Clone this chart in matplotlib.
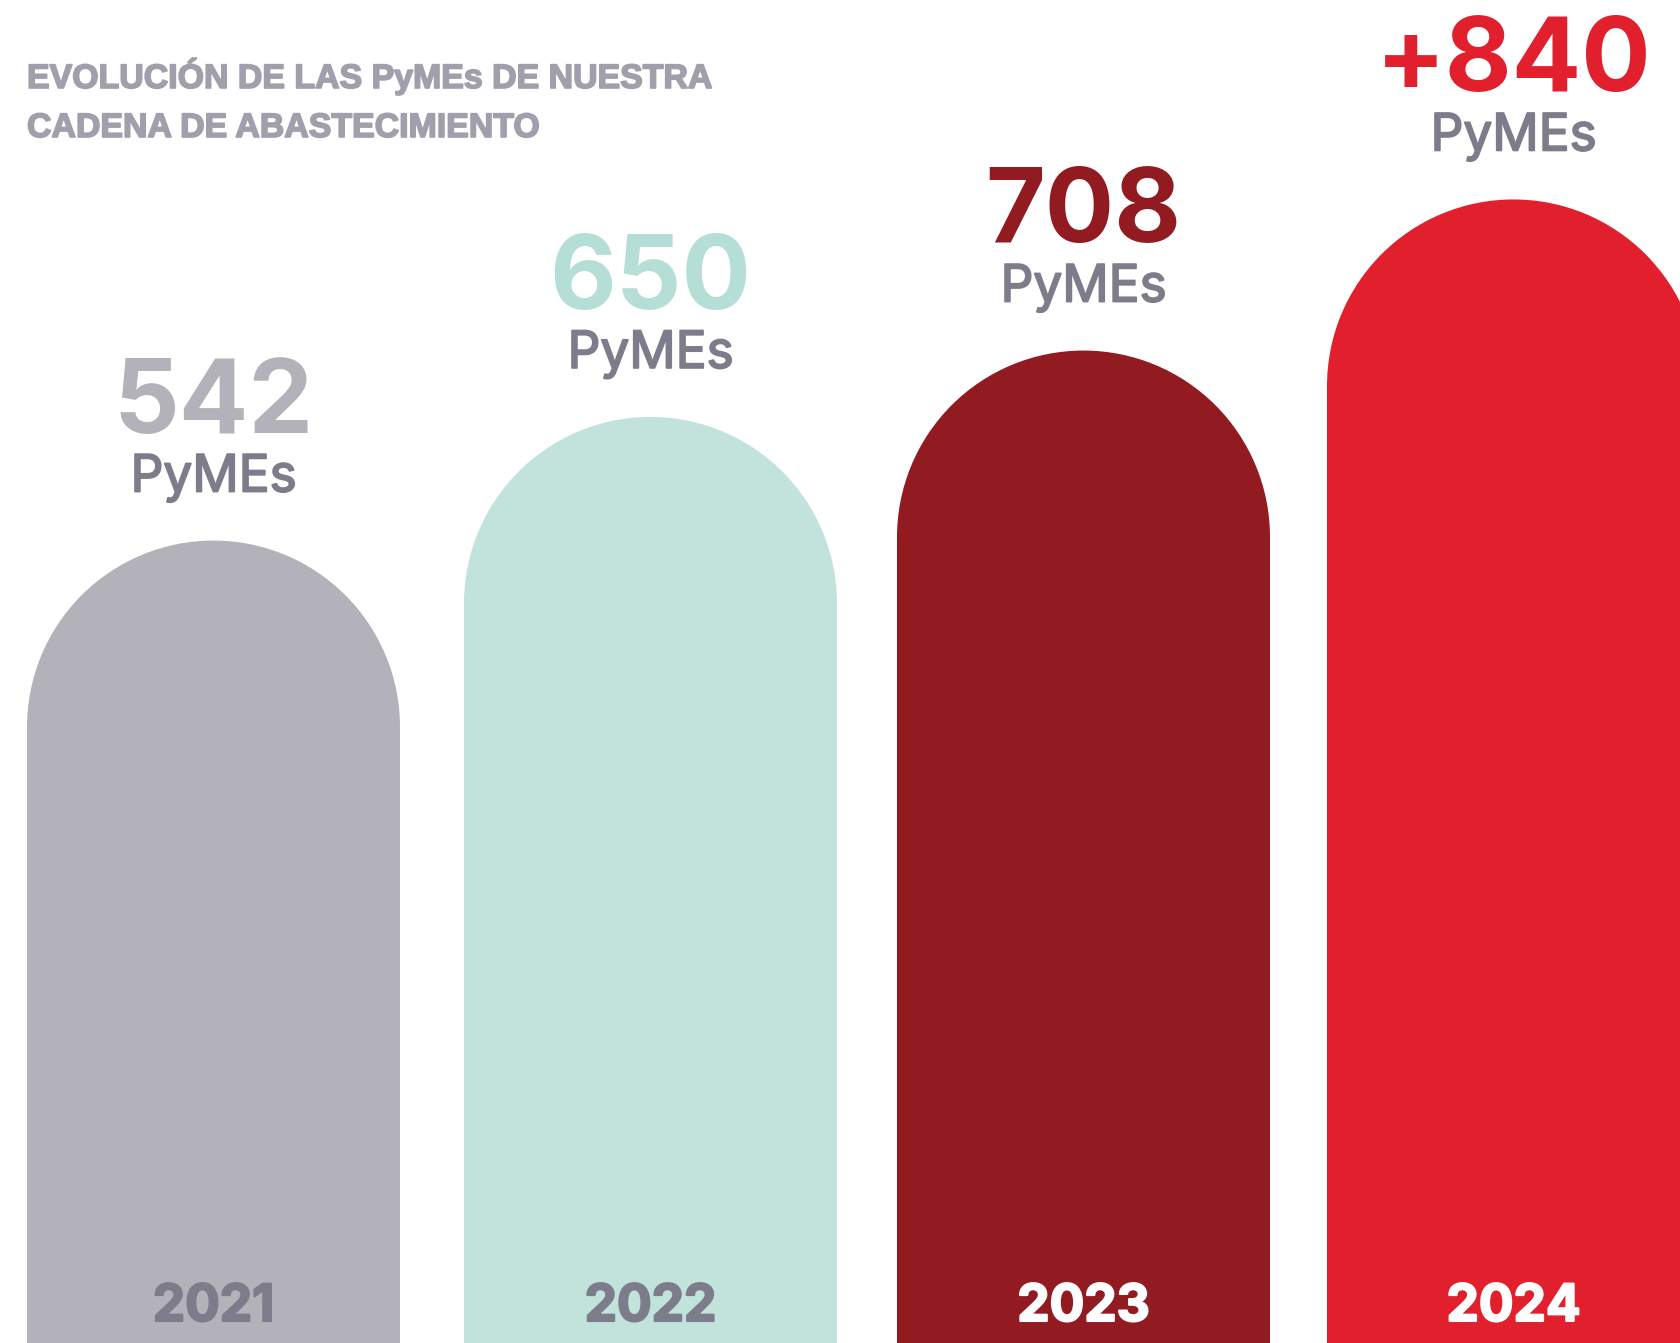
import numpy as np
import matplotlib
matplotlib.use("Agg")
from matplotlib import pyplot as plt
from matplotlib.path import Path
from matplotlib.patches import PathPatch
import matplotlib.patheffects as pe

years = ["2021", "2022", "2023", "2024"]
pymes = [542, 650, 708, 840]
value_labels = ["542", "650", "708", "+840"]
bar_colors = ["#B3B1BA", "#C2E2DC", "#921A21", "#E11F2D"]
num_colors = ["#B3B1BA", "#B4DED6", "#921A21", "#E11F2D"]
year_colors = ["#7D7C8A", "#7D7C8A", "#FFFFFF", "#FFFFFF"]
title_lines = ["EVOLUCIÓN DE LAS PyMEs DE NUESTRA", "CADENA DE ABASTECIMIENTO"]

GREY_TXT = "#7D7C8A"
TITLE_COL = "#A09FAB"
FONT = ["Inter", "Liberation Sans"]

# px per data unit, chosen so the bars land where the original puts them
k = 1.1447
W, H = 1680, 1343
y0 = -159.0

fig = plt.figure(figsize=(W / 100, H / 100), dpi=100)
ax = fig.add_axes([0, 0, 1, 1])
ax.set_xlim(0, W / k)
ax.set_ylim(y0, y0 + H / k)
ax.set_aspect("equal")
ax.axis("off")

r = 186.5 / k
centers = np.array([213.5, 650.5, 1083.5, 1513.5]) / k


def arch(x, top, r, bottom):
    # rectangle with a half-circle cap; the highest point of the cap is `top`
    arc = Path.arc(0, 180)
    arc_v = arc.vertices * r + [x, top - r]
    arc_c = arc.codes.copy()
    arc_c[0] = Path.LINETO
    verts = np.vstack([[[x - r, bottom], [x + r, bottom]], arc_v,
                       [[x - r, bottom], [x - r, bottom]]])
    codes = np.concatenate([[Path.MOVETO, Path.LINETO], arc_c,
                            [Path.LINETO, Path.CLOSEPOLY]])
    return Path(verts, codes)


for x, v, lab, bc, nc, yc, yr in zip(centers, pymes, value_labels, bar_colors,
                                     num_colors, year_colors, years):
    ax.add_patch(PathPatch(arch(x, v, r, y0 - 50), facecolor=bc,
                           edgecolor="none"))

    ax.annotate(lab, xy=(x, v), xytext=(0, 77.8), textcoords="offset points",
                ha="center", va="baseline", fontsize=74, fontweight="bold",
                color=nc, family=FONT)
    ax.annotate("PyMEs", xy=(x, v), xytext=(0, 35.3), textcoords="offset points",
                ha="center", va="baseline", fontsize=37, color=GREY_TXT,
                family=FONT,
                path_effects=[pe.withStroke(linewidth=1.3, foreground=GREY_TXT)])
    ax.text(x, 22 / H, yr, transform=ax.get_xaxis_transform(), ha="center",
            va="baseline", fontsize=37, fontweight="bold", color=yc, family=FONT,
            path_effects=[pe.withStroke(linewidth=1.5, foreground=yc)])

for i, line in enumerate(title_lines):
    fig.text(27 / W, 1 - (88 + 49 * i) / H, line, ha="left", va="baseline",
             fontsize=24.4, fontweight="bold", color=TITLE_COL,
             family=["Liberation Sans"],
             path_effects=[pe.withStroke(linewidth=1.2, foreground=TITLE_COL)])

fig.savefig("out.png", dpi=100)
